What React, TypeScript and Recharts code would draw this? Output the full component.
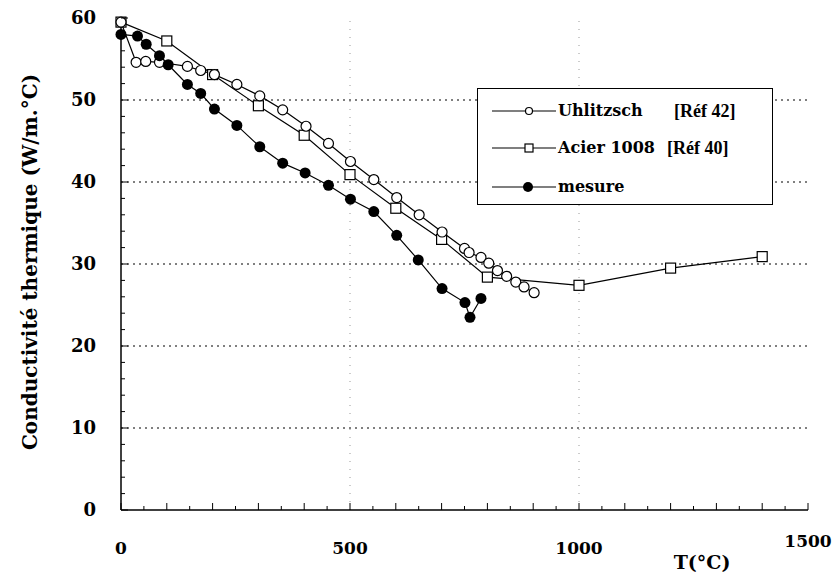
import { Line, LineChart, ReferenceLine, XAxis, YAxis } from "recharts";

// Uhlitzsch [Réf 42]
const uhlT = [0, 33, 54, 84, 145, 174, 204, 253, 303, 353, 404, 453, 501, 552, 602, 651, 701, 750, 760, 786, 803, 822, 842, 862, 880, 902];
const uhlK = [59.5, 54.6, 54.7, 54.6, 54.1, 53.6, 53.1, 51.9, 50.5, 48.8, 46.8, 44.7, 42.5, 40.3, 38.1, 36.0, 33.9, 31.9, 31.4, 30.8, 30.1, 29.2, 28.5, 27.8, 27.2, 26.5];

// Acier 1008 [Réf 40]
const acierT = [0, 100, 200, 300, 400, 500, 600, 700, 800, 1000, 1200, 1400];
const acierK = [59.5, 57.2, 53.1, 49.3, 45.7, 40.9, 36.8, 33.0, 28.4, 27.4, 29.5, 30.9];

// mesure
const mesT = [0, 36, 55, 84, 103, 145, 174, 204, 253, 303, 353, 402, 453, 501, 552, 602, 649, 701, 751, 762, 786];
const mesK = [58.0, 57.8, 56.8, 55.4, 54.3, 51.9, 50.8, 48.9, 46.9, 44.3, 42.3, 41.1, 39.6, 37.9, 36.4, 33.5, 30.5, 27.0, 25.3, 23.5, 25.8];

const xTicks = Array.from({ length: 31 }, (_, i) => i * 50);
const yTicks = Array.from({ length: 31 }, (_, i) => i * 2);
const gridY = [10, 20, 30, 40, 50];
const gridX = [500, 1000];

const zip = (t: number[], k: number[]) => t.map((x, i) => ({ x, y: k[i] }));
const uhl = zip(uhlT, uhlK);
const acier = zip(acierT, acierK);
const mes = zip(mesT, mesK);

const FONT = "'DejaVu Serif', serif";

function LeftTick({ x, y, payload }: any) {
  const v = payload.value;
  const major = v % 10 === 0;
  return (
    <g>
      <line x1={x} x2={x + (major ? 7 : 4)} y1={y} y2={y} stroke="#000" />
      {major && (
        <text x={x - 25} y={y} dy={6} textAnchor="end" fontFamily={FONT} fontWeight="bold" fontSize={18} fill="#000">
          {v}
        </text>
      )}
    </g>
  );
}

function RightTick({ x, y, payload }: any) {
  const major = payload.value % 10 === 0;
  return <line x1={x} x2={x - (major ? 7 : 4)} y1={y} y2={y} stroke="#000" />;
}

function BottomTick({ x, y, payload }: any) {
  const v = payload.value;
  const major = v % 100 === 0;
  return (
    <g>
      <line x1={x} x2={x} y1={y} y2={y - (major ? 7 : 4)} stroke="#000" />
      {v % 500 === 0 && (
        <text
          x={x}
          y={y + (v === 1500 ? 37 : 44)}
          textAnchor="middle"
          fontFamily={FONT}
          fontWeight="bold"
          fontSize={17}
          fill="#000"
        >
          {v}
        </text>
      )}
    </g>
  );
}

function TopTick({ x, y, payload }: any) {
  const major = payload.value % 100 === 0;
  return <line x1={x} x2={x} y1={y} y2={y + (major ? 7 : 4)} stroke="#000" />;
}

const openCircle = (p: any) => (
  <circle key={`u${p.index}`} cx={p.cx} cy={p.cy} r={5} fill="#fff" stroke="#000" strokeWidth={1.2} />
);
const openSquare = (p: any) => (
  <rect key={`a${p.index}`} x={p.cx - 5} y={p.cy - 5} width={10} height={10} fill="#fff" stroke="#000" strokeWidth={1.2} />
);
const filledCircle = (p: any) => <circle key={`m${p.index}`} cx={p.cx} cy={p.cy} r={5.5} fill="#000" />;

function LegendRow({ top, marker, label, refText, refLeft }: any) {
  return (
    <div style={{ position: "absolute", left: 0, top, height: 24, width: 294 }}>
      <svg width={66} height={24} style={{ position: "absolute", left: 14, top: 0 }}>
        <line x1={0} x2={64} y1={12} y2={12} stroke="#000" strokeWidth={1.2} />
        {marker === "circle" && <circle cx={37} cy={12} r={3.5} fill="#fff" stroke="#000" strokeWidth={1.2} />}
        {marker === "square" && <rect x={33} y={8} width={8} height={8} fill="#fff" stroke="#000" strokeWidth={1.2} />}
        {marker === "filled" && <circle cx={36} cy={12} r={5} fill="#000" />}
      </svg>
      <span style={{ position: "absolute", left: 80, top: 1, fontFamily: FONT, fontWeight: "bold", fontSize: 16, lineHeight: "22px", whiteSpace: "nowrap" }}>
        {label}
      </span>
      {refText && (
        <span style={{ position: "absolute", left: refLeft, top: 1, fontFamily: "'Liberation Serif', serif", fontWeight: "bold", fontSize: 18, lineHeight: "22px", whiteSpace: "nowrap" }}>
          {refText}
        </span>
      )}
    </div>
  );
}

export default function App() {
  return (
    <div style={{ position: "absolute", left: 0, top: 0, width: 838, height: 575, background: "#fff" }}>
      <LineChart width={838} height={575} margin={{ top: 18, right: 30, bottom: 0, left: 0 }}>
        <XAxis
          xAxisId={0}
          type="number"
          dataKey="x"
          domain={[0, 1500]}
          ticks={xTicks}
          interval={0}
          height={65}
          tickSize={0}
          tickMargin={0}
          tickLine={false}
          axisLine={{ stroke: "#000", strokeWidth: 1.5 }}
          tick={<BottomTick />}
          allowDuplicatedCategory={false}
          label={{
            content: () => (
              <text x={702} y={569} textAnchor="middle" fontFamily={FONT} fontWeight="bold" fontSize={19} fill="#000">
                T(°C)
              </text>
            ),
          }}
        />
        <XAxis
          xAxisId="top"
          orientation="top"
          type="number"
          dataKey="x"
          domain={[0, 1500]}
          ticks={xTicks}
          interval={0}
          height={0}
          tickSize={0}
          tickMargin={0}
          tickLine={false}
          axisLine={{ stroke: "#000", strokeWidth: 1.5 }}
          tick={<TopTick />}
        />
        <YAxis
          yAxisId={0}
          type="number"
          domain={[0, 60]}
          ticks={yTicks}
          interval={0}
          width={121}
          tickSize={0}
          tickMargin={0}
          tickLine={false}
          axisLine={{ stroke: "#000", strokeWidth: 1.5 }}
          tick={<LeftTick />}
          label={{
            content: () => (
              <text
                x={31}
                y={262}
                transform="rotate(-90, 31, 262)"
                textAnchor="middle"
                dominantBaseline="middle"
                fontFamily={FONT}
                fontWeight="bold"
                fontSize={20}
                fill="#000"
              >
                Conductivité thermique (W/m.°C)
              </text>
            ),
          }}
        />
        <YAxis
          yAxisId="right"
          orientation="right"
          type="number"
          domain={[0, 60]}
          ticks={yTicks}
          interval={0}
          width={0}
          tickSize={0}
          tickMargin={0}
          tickLine={false}
          axisLine={{ stroke: "#000", strokeWidth: 1.5 }}
          tick={<RightTick />}
        />
        {gridY.map((v) => (
          <ReferenceLine key={`gy${v}`} y={v} stroke="#000" strokeDasharray="2 4" strokeWidth={1} />
        ))}
        {gridX.map((v) => (
          <ReferenceLine key={`gx${v}`} x={v} stroke="#999" strokeDasharray="1 7" strokeWidth={1} />
        ))}
        <Line data={acier} dataKey="y" stroke="#000" strokeWidth={1.2} dot={openSquare} isAnimationActive={false} />
        <Line data={uhl} dataKey="y" stroke="#000" strokeWidth={1.2} dot={openCircle} isAnimationActive={false} />
        <Line data={mes} dataKey="y" stroke="#000" strokeWidth={1.2} dot={filledCircle} isAnimationActive={false} />
      </LineChart>
      <div
        style={{
          position: "absolute",
          left: 477,
          top: 88,
          width: 294,
          height: 115,
          border: "1.5px solid #000",
          background: "#fff",
        }}
      >
        <LegendRow top={9.5} marker="circle" label="Uhlitzsch" refText="[Réf 42]" refLeft={196} />
        <LegendRow top={46.5} marker="square" label="Acier 1008" refText="[Réf 40]" refLeft={189} />
        <LegendRow top={85.5} marker="filled" label="mesure" />
      </div>
    </div>
  );
}
